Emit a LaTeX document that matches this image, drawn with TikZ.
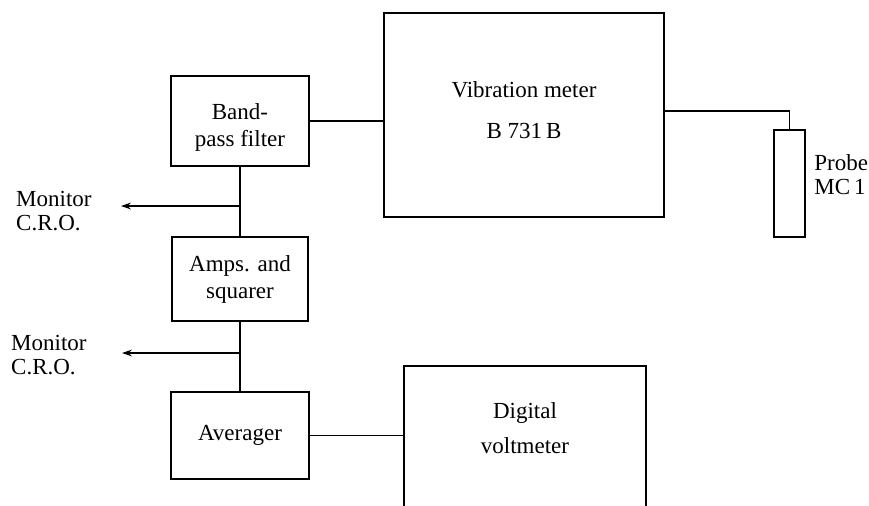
\documentclass[tikz,border=0pt]{standalone}
\usepackage{fontspec}
\setmainfont{Liberation Serif}
\usetikzlibrary{arrows.meta}
\begin{document}
\begin{tikzpicture}[x=0.5pt,y=-0.5pt,
  blk/.style={draw, line width=0.9pt, inner sep=0pt, align=center, font=\fontsize{11.5}{13.5}\selectfont},
  wire/.style={line width=0.9pt},
  tap/.style={line width=0.8pt, -{Stealth[length=5pt,width=3.4pt]}},
  lbl/.style={align=left, inner sep=0pt, font=\fontsize{11.5}{12}\selectfont}]
\useasboundingbox (0,0) rectangle (869,505);
% blocks
\node[blk, minimum width=69pt, minimum height=45pt] (bpf) at (240,121) {\rule{0pt}{14pt}Band-\\pass filter};
\node[blk, minimum width=140pt, minimum height=102pt] (vib) at (524,115) {Vibration meter\\[7pt]B 731\,B\rule[-5pt]{0pt}{5pt}};
\node[blk, minimum width=15.5pt, minimum height=53.5pt] (probe) at (789.5,183.5) {};
\node[blk, minimum width=68pt, minimum height=42pt] (amps) at (240,279) {Amps. and\\squarer};
\node[blk, minimum width=69pt, minimum height=43.5pt] (avg) at (240,435.5) {Averager};
\node[blk, draw=none, minimum width=120pt, minimum height=61pt] (dvm) at (525,428) {Digital\\[4pt]voltmeter};
\draw[wire] ([yshift=-8pt]dvm.south west) -- (dvm.north west) -- (dvm.north east) -- ([yshift=-8pt]dvm.south east);
% labels
\node[lbl, anchor=west] (probelbl) at (814,175) {Probe\\MC\,1};
\node[lbl, anchor=east] (mon1) at (92,211) {Monitor\\C.R.O.};
\node[lbl, anchor=east] (mon2) at (87,355) {Monitor\\C.R.O.};
% connections
\draw[wire] (bpf.east) -- (bpf.east -| vib.west);
\draw[wire] ([yshift=2pt]vib.east) -| (probe.north);
\draw[wire] (bpf.south) -- (amps.north);
\draw[wire] (amps.south) -- (avg.north);
\draw[wire] (avg.east) -- (avg.east -| dvm.west);
% monitor outputs
\coordinate (tap1) at (240,206);
\coordinate (cro1) at (121,206);
\coordinate (tap2) at (240,353);
\coordinate (cro2) at (122,353);
\draw[tap] (tap1) -- (cro1);
\draw[tap] (tap2) -- (cro2);
\end{tikzpicture}
\end{document}
